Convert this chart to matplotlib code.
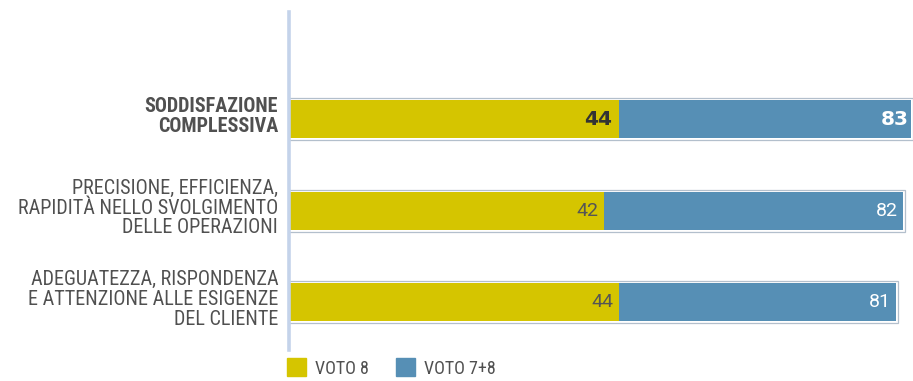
import matplotlib.pyplot as plt
from matplotlib.patches import Patch

# Labels and values
categories = ['SODDISFAZIONE\nCOMPLESSIVA',
              'PRECISIONE, EFFICIENZA,\nRAPIDITÀ NELLO SVOLGIMENTO\nDELLE OPERAZIONI',
              'ADEGUATEZZA, RISPONDENZA\nE ATTENZIONE ALLE ESIGENZE\nDEL CLIENTE']
voto8 = [44, 42, 44]
voto78 = [83, 82, 81]

yellow = '#d5c500'
blue = '#568fb5'
grey_txt = '#505050'
fonts = ['Roboto Condensed', 'DejaVu Sans']

fig = plt.figure(figsize=(9.13, 3.81), dpi=100)
W, H = 913, 381
ax = fig.add_axes([289 / W, 1 - 350 / H, 624 / W, 338 / H])

pos = list(range(len(categories)))
h = 0.415

# outer frame for each row, then the two segments
ax.barh(pos, [v + 0.35 for v in voto78], height=h + 0.045, left=-0.1,
        color='white', edgecolor='#b3bfcc', linewidth=0.9, zorder=1)
ax.barh(pos, [t - a for t, a in zip(voto78, voto8)], left=voto8, height=h,
        color=blue, zorder=2)
ax.barh(pos, voto8, height=h, color=yellow, zorder=2)

for i, (a, t) in enumerate(zip(voto8, voto78)):
    if i == 0:
        num = dict(family='DejaVu Sans', fontweight='bold', fontsize=14.5)
        c8 = '#333333'
        pad = 0.9
    else:
        num = dict(family=['Roboto', 'DejaVu Sans'], fontsize=14)
        c8 = '#555555'
        pad = 0.7
    ax.text(a - pad, i, str(a), ha='right', va='center', color=c8, zorder=3, **num)
    ax.text(t - (0.3 if i == 0 else pad), i, str(t), ha='right', va='center',
            color='white', zorder=3, **num)
    ax.text(-1.45, i - 0.03, categories[i], ha='right', va='center', fontsize=14.5,
            color=grey_txt, fontweight='bold' if i == 0 else 'normal',
            family=fonts, linespacing=1.05)

ax.set_xlim(0, 83.3)
ax.set_ylim(2.52, -1.17)
ax.set_xticks([])
ax.set_yticks([])
for s in ['top', 'right', 'bottom']:
    ax.spines[s].set_visible(False)
ax.spines['left'].set_color('#c4d3ea')
ax.spines['left'].set_linewidth(2.6)

handles = [Patch(color=yellow, label='VOTO 8'), Patch(color=blue, label='VOTO 7+8')]
fig.legend(handles=handles, loc='center left', bbox_to_anchor=(271 / W, 1 - 368 / H),
           ncol=2, frameon=False, handlelength=1.05, handleheight=1.15,
           handletextpad=0.5, columnspacing=1.5,
           prop={'family': fonts, 'size': 13}, labelcolor=grey_txt)

fig.savefig('out.png', dpi=100)
